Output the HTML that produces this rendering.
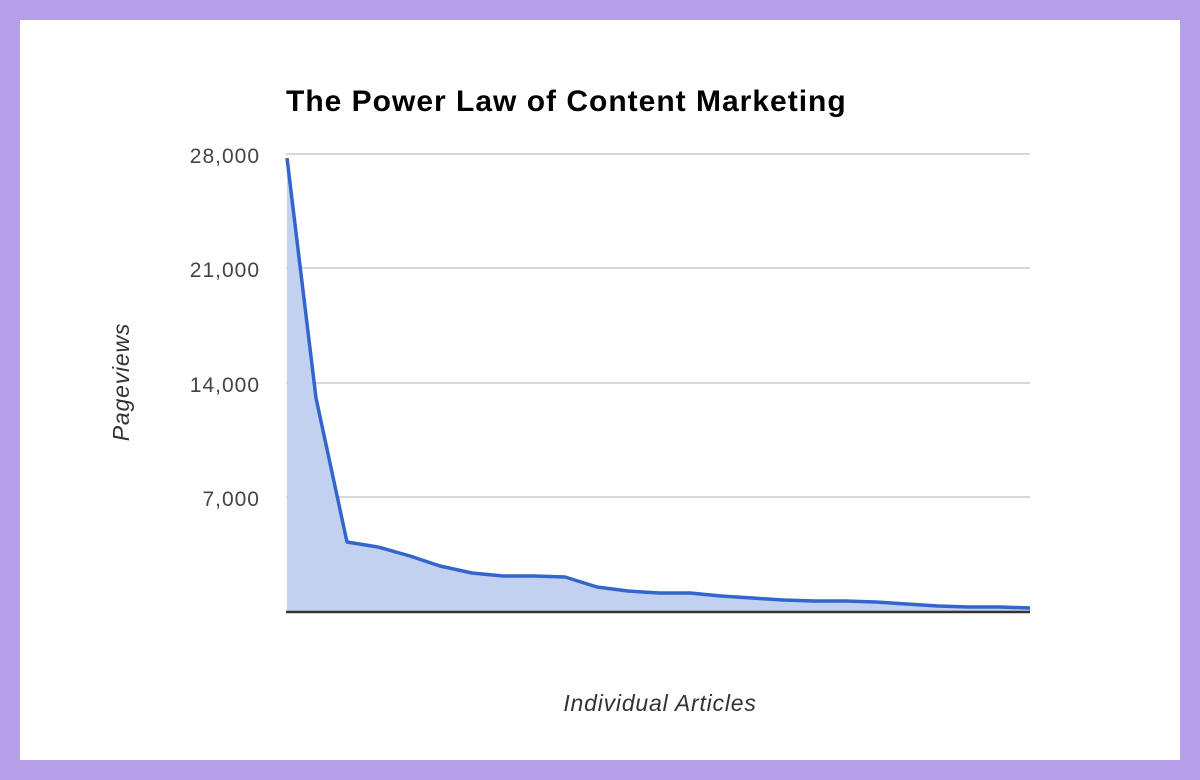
<!DOCTYPE html>
<html><head><style>
html,body{margin:0;padding:0;}
body{width:1200px;height:780px;background:#b59fe6;position:relative;overflow:hidden;font-family:"Liberation Sans",sans-serif;}
#w{position:absolute;left:20px;top:20px;width:1160px;height:740px;background:#fff;}
</style></head><body>
<div id="w"></div>
<svg width="1200" height="780" style="position:absolute;left:0;top:0">
<text x="286" y="111" font-size="30" font-weight="bold" fill="#000" letter-spacing="1">The Power Law of Content Marketing</text>
<g stroke="#cccccc" stroke-width="1.5">
<line x1="286" y1="154" x2="1030" y2="154"/>
<line x1="286" y1="268" x2="1030" y2="268"/>
<line x1="286" y1="383" x2="1030" y2="383"/>
<line x1="286" y1="497" x2="1030" y2="497"/>
</g>
<g font-size="21" fill="#444" text-anchor="end" letter-spacing="1">
<text x="260" y="163">28,000</text>
<text x="260" y="277">21,000</text>
<text x="260" y="392">14,000</text>
<text x="260" y="506">7,000</text>
</g>
<polygon fill="#c2d1ef" points="287,611 287,158 316,398 347,542 378,547 410,556 440,566 472,573 503,576 534,576 565,577 597,587 628,591 659,593 690,593 721,596 752,598 783,600 814,601 845,601 876,602 907,604 938,606 969,607 1000,607 1030,608 1030,611"/>
<polyline fill="none" stroke="#3366cc" stroke-width="3.5" stroke-linejoin="round" points="287,158 316,398 347,542 378,547 410,556 440,566 472,573 503,576 534,576 565,577 597,587 628,591 659,593 690,593 721,596 752,598 783,600 814,601 845,601 876,602 907,604 938,606 969,607 1000,607 1030,608"/>
<line x1="286" y1="612" x2="1030" y2="612" stroke="#333" stroke-width="2.5"/>
<text x="660" y="711" font-size="23" font-style="italic" fill="#333" text-anchor="middle" letter-spacing="0.8">Individual Articles</text>
<text transform="translate(129,382) rotate(-90)" font-size="23" font-style="italic" fill="#333" text-anchor="middle" letter-spacing="0.8">Pageviews</text>
</svg>
</body></html>
